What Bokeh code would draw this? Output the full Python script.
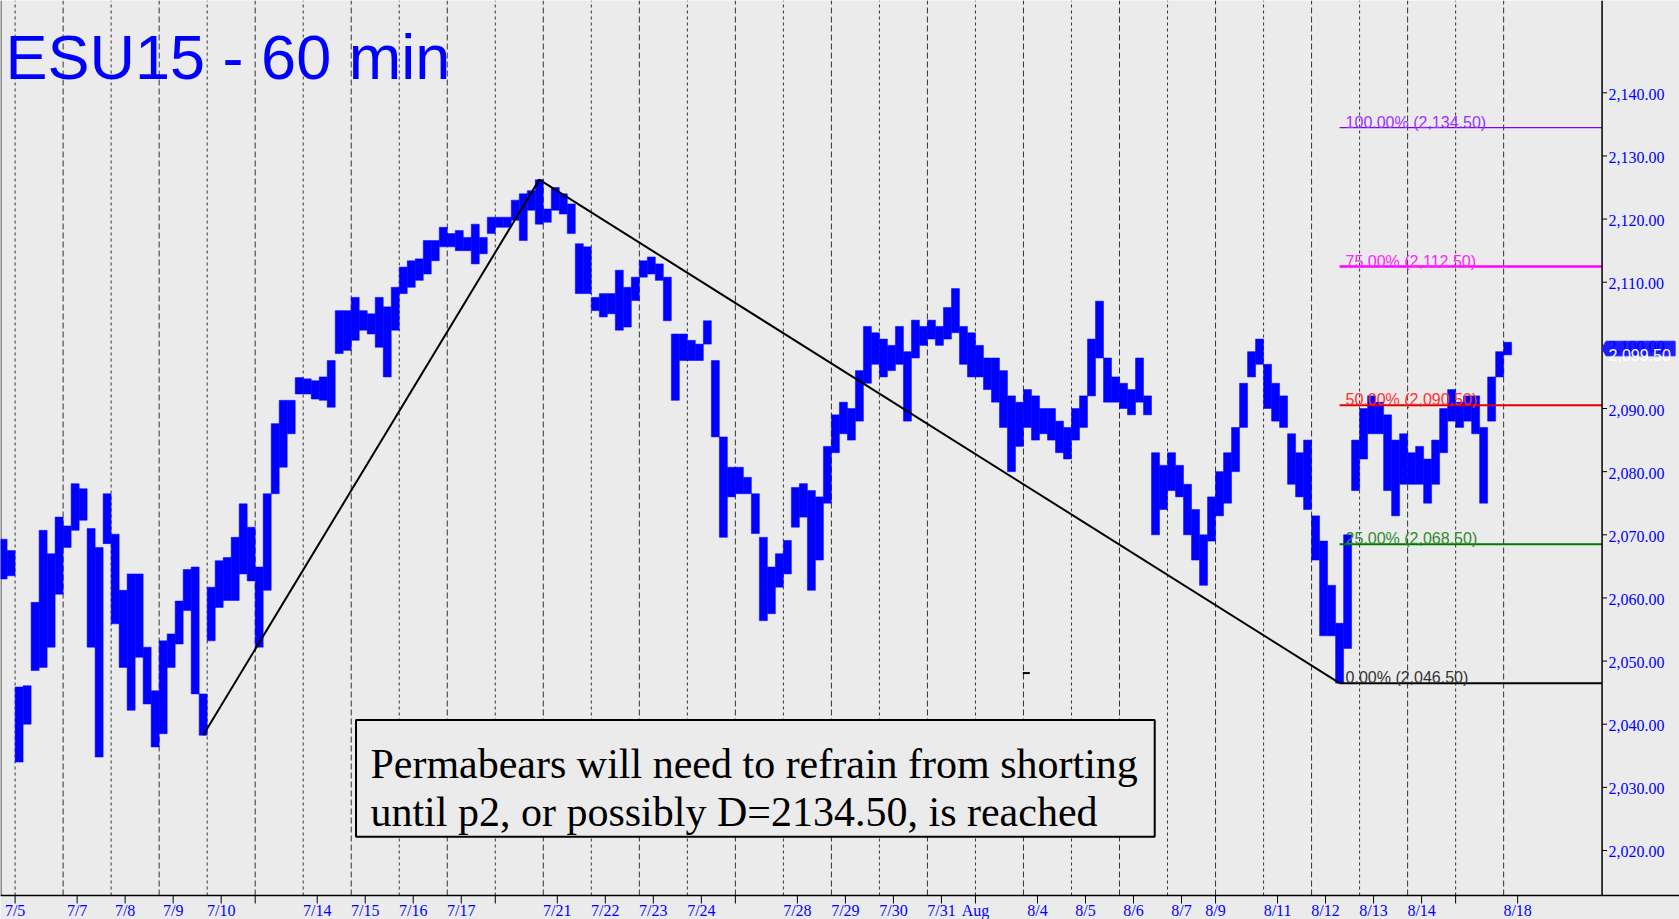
from bokeh.plotting import figure
from bokeh.models import Label, LabelSet, ColumnDataSource
from bokeh.embed import file_html
from bokeh.resources import INLINE

# ---------------- data (4-hour bins, x in trading hours from the 7/5 open) ----------------
bin_start = -2
bar_high = [
    2069.3, 2067.5,
    2045.9, 2046.1, 2059.3, 2070.7, 2067.0, 2072.8, 2071.4, 2078.1, 2077.3, 2071.0,
    2068.0, 2076.5, 2070.1, 2061.2, 2063.8, 2063.8, 2052.2, 2045.3, 2053.2, 2054.3,
    2059.5, 2064.5, 2064.9, 2044.8, 2061.7, 2065.9, 2066.4, 2069.6, 2074.9, 2071.2,
    2064.9, 2076.5, 2087.6, 2091.3, 2091.3, 2094.9, 2094.7, 2094.4, 2095.0, 2097.6,
    2105.5, 2105.5, 2107.6, 2105.5, 2105.0, 2107.6, 2106.1, 2109.2, 2112.4, 2113.4,
    2113.7, 2116.6, 2116.6, 2118.7, 2117.7, 2118.2, 2117.1, 2119.2, 2117.1, 2120.3,
    2120.3, 2120.3, 2123.0, 2124.0, 2124.5, 2126.25, 2121.6, 2125.0, 2124.0, 2122.4,
    2116.1, 2115.6, 2107.6, 2108.2, 2108.2, 2111.9, 2109.2, 2110.8, 2113.4, 2114.0,
    2112.9, 2110.8, 2101.8, 2101.8, 2100.8, 2100.2, 2103.9, 2097.6, 2085.5, 2080.7,
    2080.7, 2079.1, 2076.5, 2069.6, 2064.9, 2067.0, 2069.1, 2077.5, 2078.1, 2077.0,
    2076.0, 2084.0, 2089.0, 2091.0, 2090.0, 2096.0, 2103.0, 2102.0, 2101.0, 2100.0,
    2103.0, 2099.0, 2104.0, 2103.0, 2104.0, 2103.0, 2106.0, 2109.0, 2103.0, 2102.0,
    2100.0, 2098.0, 2098.0, 2096.0, 2092.0, 2091.0, 2093.0, 2092.0, 2090.0, 2090.0,
    2088.0, 2087.0, 2090.0, 2092.0, 2101.0, 2107.0, 2098.0, 2095.0, 2094.0, 2093.0,
    2098.0, 2092.0, 2083.0, 2081.0, 2083.0, 2081.0, 2078.0, 2074.0, 2070.0, 2076.0,
    2080.0, 2083.0, 2087.0, 2094.0, 2099.0, 2101.0, 2097.0, 2094.0, 2092.0, 2086.0,
    2083.0, 2085.0, 2073.0, 2069.0, 2062.0, 2056.0, 2070.0, 2085.0, 2090.0, 2092.0,
    2091.0, 2089.0, 2085.0, 2086.0, 2083.0, 2084.0, 2082.0, 2085.0, 2090.0, 2093.0,
    2091.0, 2092.0, 2092.0, 2087.0, 2095.0, 2099.0, 2100.5,
]
bar_low = [
    2063.0, 2063.5,
    2034.0, 2040.0, 2048.5, 2049.0, 2052.2, 2060.6, 2068.0, 2070.7, 2072.3, 2052.2,
    2034.8, 2068.6, 2055.9, 2049.0, 2042.2, 2050.6, 2043.2, 2036.4, 2038.5, 2049.0,
    2052.7, 2058.0, 2044.8, 2038.25, 2053.2, 2058.5, 2059.6, 2059.6, 2063.8, 2062.7,
    2052.2, 2061.2, 2076.5, 2080.7, 2086.0, 2092.3, 2092.3, 2091.5, 2091.3, 2090.2,
    2098.7, 2099.2, 2100.8, 2102.4, 2101.8, 2099.7, 2095.0, 2102.4, 2108.2, 2109.2,
    2110.3, 2111.3, 2113.4, 2115.6, 2115.6, 2115.0, 2115.0, 2112.9, 2114.5, 2117.7,
    2118.7, 2118.7, 2119.8, 2116.6, 2121.4, 2119.2, 2119.5, 2121.4, 2120.8, 2117.7,
    2108.2, 2108.2, 2105.5, 2104.5, 2105.0, 2102.4, 2102.9, 2107.1, 2110.8, 2111.3,
    2110.3, 2103.9, 2091.3, 2097.6, 2097.6, 2097.6, 2100.2, 2085.5, 2069.6, 2076.0,
    2076.5, 2076.5, 2070.2, 2056.4, 2057.5, 2061.7, 2063.8, 2071.2, 2072.8, 2061.2,
    2066.0, 2075.0, 2083.0, 2086.0, 2085.0, 2088.0, 2094.0, 2097.0, 2095.0, 2096.0,
    2097.0, 2088.0, 2098.0, 2100.0, 2101.0, 2100.0, 2101.0, 2102.0, 2097.0, 2095.0,
    2095.0, 2093.0, 2091.0, 2087.0, 2080.0, 2084.0, 2087.0, 2085.0, 2086.0, 2085.0,
    2083.0, 2082.0, 2085.0, 2087.0, 2092.0, 2098.0, 2091.0, 2091.0, 2090.0, 2089.0,
    2091.0, 2089.0, 2070.0, 2074.0, 2077.0, 2076.0, 2070.0, 2066.0, 2062.0, 2069.0,
    2073.0, 2075.0, 2080.0, 2087.0, 2095.0, 2097.0, 2090.0, 2088.0, 2087.0, 2078.0,
    2076.0, 2074.0, 2066.0, 2054.0, 2054.0, 2046.5, 2052.0, 2077.0, 2082.0, 2086.0,
    2086.0, 2077.0, 2073.0, 2078.0, 2078.0, 2078.0, 2075.0, 2078.0, 2083.0, 2088.0,
    2087.0, 2088.0, 2086.0, 2075.0, 2088.0, 2095.0, 2098.5,
]
bar_x = [4 * (bin_start + i) + 2 for i in range(len(bar_high))]

# pivots (bin numbers) for the A-B-C pattern
pivot_a, pivot_b, pivot_c = 23, 65, 165

fib_pcts = ["0.00%", "25.00%", "50.00%", "75.00%", "100.00%"]
fib_prices = [2046.50, 2068.50, 2090.50, 2112.50, 2134.50]
fib_line_colors = ["#000000", "#007a00", "#e00000", "#ff00ff", "#8000ff"]
fib_text_colors = ["#333333", "#2e8b2e", "#ff3030", "#ff22ff", "#9933ff"]
fib_widths = [2, 2, 2, 2.5, 1.2]

y_ticks = [2020, 2030, 2040, 2050, 2060, 2070, 2080, 2090, 2100, 2110, 2120, 2130, 2140]
y_tick_text = [f"{t:,.2f}" for t in y_ticks]

day_lines = list(range(0, 32))  # session boundaries (day index)
tick_pos = [0, 31, 55, 79, 103, 120, 151, 175, 199, 223, 240, 271, 295, 319, 343, 360,
            391, 415, 439, 463, 480, 511, 535, 559, 583, 600, 631, 655, 679, 703, 720, 751]
tick_txt = ["7/5", "7/7", "7/8", "7/9", "7/10", "", "7/14", "7/15", "7/16", "7/17", "",
            "7/21", "7/22", "7/23", "7/24", "", "7/28", "7/29", "7/30", "7/31", "Aug",
            "8/4", "8/5", "8/6", "8/7", "8/9", "8/11", "8/12", "8/13", "8/14", "", "8/18"]

last_price = 2099.50
title_text = "ESU15 - 60 min"
note_lines = ["Permabears will need to refrain from shorting",
              "until p2, or possibly D=2134.50, is reached"]

# ---------------- figure (one frame covering the whole picture) ----------------
BG = "#ebebeb"
X0, X1 = -7.3, 831.9          # whole picture width
Y0, Y1 = 2009.07, 2154.62     # whole picture height
AX = 793.2                    # price-scale line position
AY = 2012.87                  # time-scale line position
HPX = 0.5                     # hours per pixel
VPX = 1 / 6.314               # points per pixel

p = figure(width=1679, height=919, x_range=(X0, X1), y_range=(Y0, Y1),
           x_axis_location=None, y_axis_location=None,
           toolbar_location=None, output_backend="svg", min_border=0,
           background_fill_color=BG, border_fill_color=BG)
p.xgrid.visible = False
p.ygrid.visible = False
p.outline_line_color = None

FONT = "Liberation Sans"

# session separators
even = [24 * k for k in day_lines if k % 2 == 0]
odd = [24 * k for k in day_lines if k % 2 == 1]
p.segment(x0=even, x1=even, y0=[AY] * len(even), y1=[Y1] * len(even),
          line_color="#333333", line_width=1, line_dash="3 3")
p.segment(x0=odd, x1=odd, y0=[AY] * len(odd), y1=[Y1] * len(odd),
          line_color="#333333", line_width=1, line_dash="6 3")

# left frame edge
p.segment(x0=[X0], x1=[X0], y0=[AY], y1=[Y1], line_color="#8a8a8a", line_width=3)

# price bars
p.vbar(x=bar_x, width=4, top=bar_high, bottom=bar_low,
       fill_color="#0000ff", line_color="#0000ff", line_width=0.5)

# A-B-C lines
ia, ib, ic = pivot_a - bin_start, pivot_b - bin_start, pivot_c - bin_start
p.line([bar_x[ia], bar_x[ib], bar_x[ic]], [bar_low[ia], bar_high[ib], bar_low[ic]],
       line_color="black", line_width=2)

# fib projection levels
xc = bar_x[ic]
for pct, pr, lc, tc, lw in zip(fib_pcts, fib_prices, fib_line_colors, fib_text_colors, fib_widths):
    p.segment(x0=[xc], x1=[AX], y0=[pr], y1=[pr], line_color=lc, line_width=lw)
    p.add_layout(Label(x=xc + 3, y=pr + 0.85, text=f"{pct} ({pr:,.2f})",
                       text_color=tc, text_font=FONT, text_font_size="16px",
                       text_baseline="alphabetic", text_align="left"))

# small marker
p.scatter(x=[505.4], y=[2048.1], marker="dash", size=7, line_color="black", line_width=2)

# title
p.add_layout(Label(x=-4.8, y=2145.6, text=title_text, text_color="#0000ff",
                   text_font=FONT, text_font_size="63px", text_baseline="alphabetic"))

# note box
p.quad(left=[170.4], right=[569.6], top=[2040.65], bottom=[2022.17],
       fill_color=BG, line_color="black", line_width=2)
for ln, yy in zip(note_lines, [2033.73, 2026.17]):
    p.add_layout(Label(x=177.6, y=yy, text=ln, text_color="black",
                       text_font="Liberation Serif", text_font_size="42px",
                       text_baseline="alphabetic"))

# ---- price scale (right) ----
p.segment(x0=[AX], x1=[AX], y0=[AY], y1=[Y1], line_color="black", line_width=1.5)
p.segment(x0=[AX] * len(y_ticks), x1=[AX + 5 * HPX] * len(y_ticks), y0=y_ticks, y1=y_ticks,
          line_color="black", line_width=1)
ysrc = ColumnDataSource(dict(x=[AX + 6.5 * HPX] * len(y_ticks),
                             y=[t - 7.0 * VPX for t in y_ticks], text=y_tick_text))
p.add_layout(LabelSet(x="x", y="y", text="text", source=ysrc, text_color="#0000ff",
                      text_font=FONT, text_font_size="16px",
                      text_baseline="alphabetic", text_align="left"))

# last price tag
tag_h = 7.3 * VPX
p.patch(x=[AX, AX + 4 * HPX, AX + 73 * HPX, AX + 73 * HPX, AX + 4 * HPX],
        y=[last_price, last_price + tag_h, last_price + tag_h, last_price - tag_h, last_price - tag_h],
        fill_color="#1c1cff", line_color="#1c1cff")
p.add_layout(Label(x=AX + 6.5 * HPX, y=last_price - 6.5 * VPX, text=f"{last_price:,.2f}",
                   text_color="white", text_font=FONT, text_font_size="16px",
                   text_baseline="alphabetic", text_align="left"))

# ---- time scale (bottom) ----
p.segment(x0=[X0], x1=[X1], y0=[AY], y1=[AY], line_color="black", line_width=1.5)
p.segment(x0=tick_pos, x1=tick_pos, y0=[AY] * len(tick_pos), y1=[AY - 8 * VPX] * len(tick_pos),
          line_color="black", line_width=1)
xsrc = ColumnDataSource(dict(x=tick_pos, y=[AY - 20.0 * VPX] * len(tick_pos), text=tick_txt))
p.add_layout(LabelSet(x="x", y="y", text="text", source=xsrc, text_color="#0000ff",
                      text_font=FONT, text_font_size="16px",
                      text_baseline="alphabetic", text_align="center"))

open("out.html", "w").write(file_html(p, INLINE))
